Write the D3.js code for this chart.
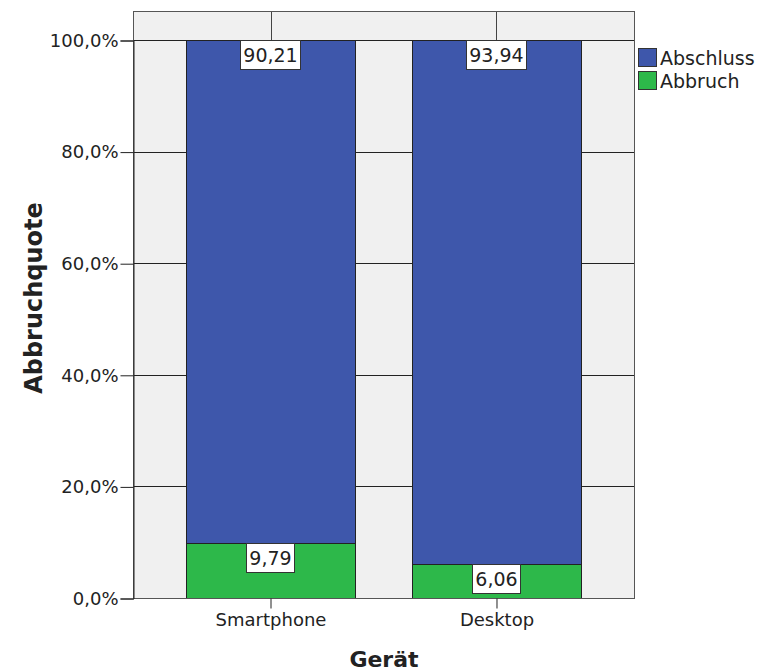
<!DOCTYPE html>
<html>
<head>
<meta charset="utf-8">
<script src="https://cdn.jsdelivr.net/npm/d3@7"></script>
<style>
  html, body { margin: 0; padding: 0; background: #fff; }
  svg text { font-family: "DejaVu Sans", sans-serif; fill: #222; }
</style>
</head>
<body>
<svg id="chart" width="757" height="671"></svg>
<script>
// Device categories and stacked shares (percent)
const categories = ["Smartphone", "Desktop"];
const seriesNames = ["Abbruch", "Abschluss"];
const abbruch = [9.79, 6.06];
const abschluss = [90.21, 93.94];
const yTicks = [0, 20, 40, 60, 80, 100];

const colors = { Abschluss: "#3e57ab", Abbruch: "#2db84a" };

const svg = d3.select("#chart");
const plotLeft = 133, plotRight = 634, plotTop = 11, plotBottom = 598;

const x = d3.scaleBand().domain(categories).range([plotLeft, plotRight])
  .paddingInner(0.252).paddingOuter(0.2345);
const y = d3.scaleLinear().domain([0, 100]).range([plotBottom, 40]);

const fmt = v => d3.format(".2f")(v).replace(".", ",");
const fmtTick = v => d3.format(".1f")(v).replace(".", ",") + "%";

// plot background
svg.append("rect").attr("x", plotLeft).attr("y", plotTop)
  .attr("width", plotRight - plotLeft).attr("height", plotBottom - plotTop)
  .attr("fill", "#f0f0f0");

// horizontal gridlines
svg.append("g").selectAll("line").data(yTicks.filter(d => d > 0)).join("line")
  .attr("x1", plotLeft).attr("x2", plotRight)
  .attr("y1", d => Math.round(y(d)) + 0.5).attr("y2", d => Math.round(y(d)) + 0.5)
  .attr("stroke", "#222").attr("stroke-width", 1);

// category ticks at the top edge
svg.append("g").selectAll("line").data(categories).join("line")
  .attr("x1", d => Math.round(x(d) + x.bandwidth() / 2) + 0.5)
  .attr("x2", d => Math.round(x(d) + x.bandwidth() / 2) + 0.5)
  .attr("y1", plotTop).attr("y2", y(100))
  .attr("stroke", "#444");

// stacked data
const rows = categories.map((c, i) => ({ cat: c, Abbruch: abbruch[i], Abschluss: abschluss[i] }));
const stack = d3.stack().keys(seriesNames)(rows);

const bars = svg.append("g");
stack.forEach(layer => {
  bars.selectAll(null).data(layer).join("rect")
    .attr("x", d => Math.round(x(d.data.cat)) + 0.5)
    .attr("width", Math.round(x.bandwidth()))
    .attr("y", d => Math.round(y(d[1])) + 0.5)
    .attr("height", d => Math.round(y(d[0])) - Math.round(y(d[1])))
    .attr("fill", colors[layer.key])
    .attr("stroke", "#222").attr("stroke-width", 1);
});

// value labels in white boxes at the top of each segment
const labels = svg.append("g");
stack.forEach(layer => {
  layer.forEach(d => {
    const cx = x(d.data.cat) + x.bandwidth() / 2;
    const ty = y(d[1]);
    const g = labels.append("g");
    const t = g.append("text").attr("x", cx).attr("y", ty + 22)
      .attr("text-anchor", "middle").style("font-size", "19px")
      .text(fmt(d.data[layer.key]));
    const w = t.node().getComputedTextLength();
    g.insert("rect", "text")
      .attr("x", Math.round(cx - w / 2 - 3) + 0.5).attr("y", Math.round(ty) + 0.5)
      .attr("width", Math.round(w + 6)).attr("height", 29)
      .attr("fill", "#fff").attr("stroke", "#333");
  });
});

// frame
svg.append("rect").attr("x", plotLeft + 0.5).attr("y", plotTop + 0.5)
  .attr("width", plotRight - plotLeft).attr("height", plotBottom - plotTop)
  .attr("fill", "none").attr("stroke", "#555");

// y axis
const yAxis = svg.append("g").attr("transform", `translate(${plotLeft + 0.5},0.5)`)
  .call(d3.axisLeft(y).tickValues(yTicks).tickFormat(fmtTick).tickSize(13).tickPadding(2));
yAxis.select(".domain").attr("stroke", "#222");
yAxis.selectAll(".tick line").attr("stroke", "#222");
yAxis.selectAll(".tick text").style("font-size", "18px")
  .style("font-family", "DejaVu Sans, sans-serif").attr("fill", "#222");

// x axis
const xAxis = svg.append("g").attr("transform", `translate(0.5,${plotBottom + 0.5})`)
  .call(d3.axisBottom(x).tickSize(10).tickPadding(5));
xAxis.select(".domain").remove();
xAxis.selectAll(".tick line").attr("stroke", "#222");
xAxis.selectAll(".tick text").style("font-size", "18px")
  .style("font-family", "DejaVu Sans, sans-serif").attr("fill", "#222");

// axis titles
svg.append("text").attr("x", 384).attr("y", 667).attr("text-anchor", "middle")
  .style("font-size", "22px").style("font-weight", "bold").text("Gerät");
svg.append("text").attr("transform", "translate(42,298) rotate(-90)")
  .attr("text-anchor", "middle").style("font-size", "24px").style("font-weight", "bold")
  .text("Abbruchquote");

// legend
const legendItems = ["Abschluss", "Abbruch"];
const lg = svg.append("g").attr("transform", "translate(638,48)");
legendItems.forEach((k, i) => {
  lg.append("rect").attr("x", 0.5).attr("y", i * 23 + 0.5).attr("width", 18).attr("height", 18)
    .attr("fill", colors[k]).attr("stroke", "#333");
  lg.append("text").attr("x", 22).attr("y", i * 23 + 17).style("font-size", "19px").text(k);
});
</script>
</body>
</html>
